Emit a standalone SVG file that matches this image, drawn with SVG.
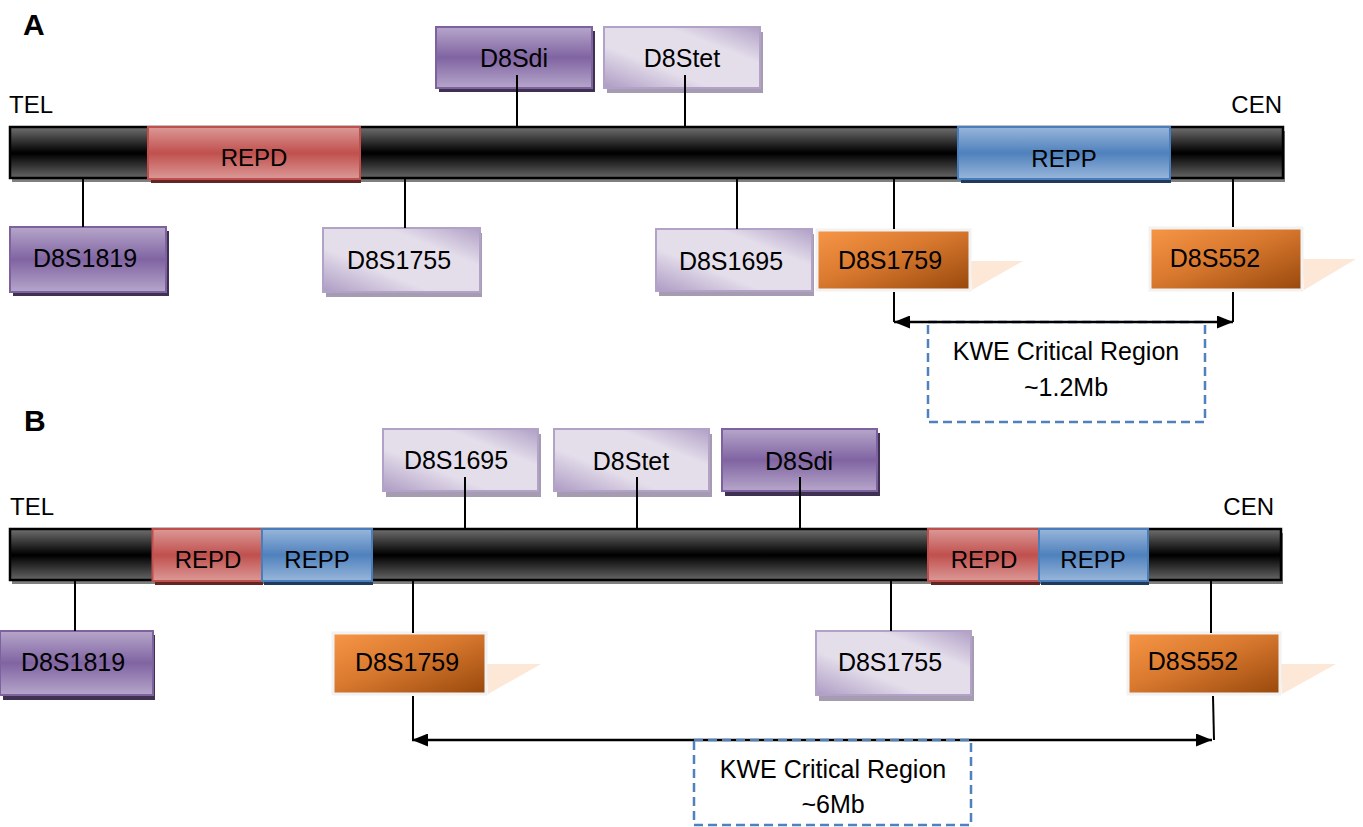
<svg xmlns="http://www.w3.org/2000/svg" width="1363" height="827" viewBox="0 0 1363 827">
<defs>
<linearGradient id="gBar" x1="0" y1="0" x2="0" y2="1">
<stop offset="0" stop-color="#707070"/><stop offset="0.48" stop-color="#050505"/><stop offset="0.52" stop-color="#000"/><stop offset="1" stop-color="#666"/>
</linearGradient>
<linearGradient id="gRD" x1="0" y1="0" x2="0" y2="1">
<stop offset="0" stop-color="#db9997"/><stop offset="0.5" stop-color="#c0504d"/><stop offset="1" stop-color="#db9997"/>
</linearGradient>
<linearGradient id="gRP" x1="0" y1="0" x2="0" y2="1">
<stop offset="0" stop-color="#98b6da"/><stop offset="0.5" stop-color="#4f81bd"/><stop offset="1" stop-color="#98b6da"/>
</linearGradient>
<linearGradient id="gDP" x1="0" y1="0" x2="0" y2="1">
<stop offset="0" stop-color="#b6a6ca"/><stop offset="0.5" stop-color="#8064a2"/><stop offset="1" stop-color="#b6a6ca"/>
</linearGradient>
<linearGradient id="gLP" x1="0" y1="1" x2="1" y2="0">
<stop offset="0" stop-color="#ad9bc3"/><stop offset="0.35" stop-color="#e4deeb"/><stop offset="0.7" stop-color="#e4deeb"/><stop offset="1" stop-color="#b09fc5"/>
</linearGradient>
<linearGradient id="gOR" x1="0" y1="0" x2="1" y2="1">
<stop offset="0" stop-color="#f79646"/><stop offset="0.45" stop-color="#d9792f"/><stop offset="1" stop-color="#98480c"/>
</linearGradient>
<marker id="ah" markerUnits="userSpaceOnUse" markerWidth="16" markerHeight="13" refX="16" refY="6.5" orient="auto-start-reverse">
<path d="M0,0 L16,6.5 L0,13 z" fill="#000"/>
</marker>
</defs>
<style>
.lbl{font-family:"Liberation Sans",Arial,sans-serif;font-size:25px;fill:#000;text-anchor:middle}
.cap{font-family:"Liberation Sans",Arial,sans-serif;font-size:24px;fill:#000}
.mid{text-anchor:middle}
.end{text-anchor:end}
.big{font-family:"Liberation Sans",Arial,sans-serif;font-size:30px;font-weight:bold;fill:#000}
.dp{fill:url(#gDP);stroke:#7e62a0;stroke-width:2}
.dps{fill:#3f3151}
.lp{fill:url(#gLP);stroke:#b3a2c7;stroke-width:2}
.lps{fill:#a59cb2}
.or{fill:url(#gOR);stroke:#f2f2f2;stroke-width:3}
.peach{fill:#fde7d7}
.bar{fill:url(#gBar);stroke:#000;stroke-width:2.5}
.barS{fill:#7f7f7f}
.repd{fill:url(#gRD);stroke:#bf4f4c;stroke-width:2}
.repdS{fill:#632523}
.repp{fill:url(#gRP);stroke:#4a7dbb;stroke-width:2}
.reppS{fill:#21395a}
.conn{stroke:#000;stroke-width:2;fill:none}
.arr{stroke:#000;stroke-width:2.5;fill:none;marker-start:url(#ah);marker-end:url(#ah)}
.dash{fill:none;stroke:#4f81bd;stroke-width:2.5;stroke-dasharray:9 5}
</style>
<rect width="1363" height="827" fill="#fff"/>

<!-- Panel labels -->
<text class="big" x="23" y="35">A</text>
<text class="big" x="24" y="431">B</text>
<text class="cap" x="9" y="113">TEL</text>
<text class="cap end" x="1282" y="113">CEN</text>
<text class="cap" x="10" y="515">TEL</text>
<text class="cap end" x="1274" y="515">CEN</text>

<!-- Chromosome A -->
<g id="chrA">
<rect class="barS" x="12" y="131" width="1273" height="51"/>
<rect class="bar" x="10" y="127" width="1273" height="51"/>
</g>
<g id="A_REPD">
<rect class="repdS" x="151" y="131" width="210" height="52"/>
<rect class="repd" x="148" y="127" width="212" height="52"/>
<text class="cap mid" x="254" y="166">REPD</text>
</g>
<g id="A_REPP">
<rect class="reppS" x="961" y="131" width="210" height="52"/>
<rect class="repp" x="958" y="127" width="212" height="52"/>
<text class="cap mid" x="1064" y="167">REPP</text>
</g>

<!-- Chromosome B -->
<g id="chrB">
<rect class="barS" x="12" y="533" width="1271" height="51"/>
<rect class="bar" x="10" y="529" width="1271" height="51"/>
</g>
<g id="B_REPD1">
<rect class="repdS" x="155" y="533" width="108" height="52"/>
<rect class="repd" x="152.5" y="529" width="109.5" height="52"/>
<text class="cap mid" x="208" y="568">REPD</text>
</g>
<g id="B_REPP1">
<rect class="reppS" x="264" y="533" width="109" height="52"/>
<rect class="repp" x="262" y="529" width="110" height="52"/>
<text class="cap mid" x="317" y="568">REPP</text>
</g>
<g id="B_REPD2">
<rect class="repdS" x="931" y="533" width="109" height="52"/>
<rect class="repd" x="928" y="529" width="111" height="52"/>
<text class="cap mid" x="984" y="568">REPD</text>
</g>
<g id="B_REPP2">
<rect class="reppS" x="1041" y="533" width="108" height="52"/>
<rect class="repp" x="1039" y="529" width="109" height="52"/>
<text class="cap mid" x="1093" y="568">REPP</text>
</g>

<!-- Panel A markers -->
<g id="A_D8S1819">
<rect class="dps" x="13" y="231" width="156" height="65"/>
<rect class="dp" x="10" y="227" width="156" height="65"/>
<text class="lbl" x="85" y="267">D8S1819</text>
</g>
<g id="A_D8Sdi">
<rect class="dps" x="439" y="31" width="156" height="61"/>
<rect class="dp" x="436" y="27" width="156" height="61"/>
<text class="lbl" x="514" y="67">D8Sdi</text>
</g>
<g id="A_D8Stet">
<rect class="lps" x="607" y="32" width="156" height="61"/>
<rect class="lp" x="604" y="27" width="156" height="61"/>
<text class="lbl" x="682" y="67">D8Stet</text>
</g>
<g id="A_D8S1755">
<rect class="lps" x="326" y="233" width="156" height="64"/>
<rect class="lp" x="323" y="228" width="157" height="64"/>
<text class="lbl" x="399" y="269">D8S1755</text>
</g>
<g id="A_D8S1695">
<rect class="lps" x="659" y="234" width="155" height="62"/>
<rect class="lp" x="656" y="229" width="156" height="62"/>
<text class="lbl" x="731" y="270">D8S1695</text>
</g>
<g id="A_D8S1759">
<polygon class="peach" points="970,261 1023,261 972,290"/>
<rect class="or" x="817" y="230" width="153" height="60"/>
<text class="lbl" x="890" y="269">D8S1759</text>
</g>
<g id="A_D8S552">
<polygon class="peach" points="1302,259 1356,259 1304,290"/>
<rect class="or" x="1150" y="228" width="152" height="62"/>
<text class="lbl" x="1215" y="267">D8S552</text>
</g>
<g id="A_KWE">
<rect class="dash" x="928" y="322" width="277" height="100"/>
<text class="lbl" x="1066" y="360">KWE Critical Region</text>
<text class="lbl" x="1066" y="396">~1.2Mb</text>
</g>

<!-- Panel B markers -->
<g id="B_D8S1819">
<rect class="dps" x="3" y="635" width="152" height="65"/>
<rect class="dp" x="0" y="631" width="153" height="64"/>
<text class="lbl" x="73" y="671">D8S1819</text>
</g>
<g id="B_D8S1695">
<rect class="lps" x="386" y="434" width="155" height="63"/>
<rect class="lp" x="383" y="429" width="155" height="62"/>
<text class="lbl" x="456" y="469">D8S1695</text>
</g>
<g id="B_D8Stet">
<rect class="lps" x="557" y="434" width="155" height="63"/>
<rect class="lp" x="554" y="429" width="155" height="62"/>
<text class="lbl" x="631" y="470">D8Stet</text>
</g>
<g id="B_D8Sdi">
<rect class="dps" x="725" y="433" width="155" height="63"/>
<rect class="dp" x="722" y="429" width="155" height="62"/>
<text class="lbl" x="799" y="470">D8Sdi</text>
</g>
<g id="B_D8S1755">
<rect class="lps" x="819" y="636" width="155" height="65"/>
<rect class="lp" x="816" y="631" width="155" height="64"/>
<text class="lbl" x="890" y="671">D8S1755</text>
</g>
<g id="B_D8S1759">
<polygon class="peach" points="486,664 541,664 488,694"/>
<rect class="or" x="333" y="633" width="153" height="61"/>
<text class="lbl" x="407" y="671">D8S1759</text>
</g>
<g id="B_D8S552">
<polygon class="peach" points="1280,664 1336,664 1282,694"/>
<rect class="or" x="1128" y="633" width="152" height="61"/>
<text class="lbl" x="1193" y="670">D8S552</text>
</g>

<!-- Connectors -->
<g id="connectors">
<line class="conn" x1="83" y1="178" x2="83" y2="227"/>
<line class="conn" x1="405" y1="178" x2="405" y2="228"/>
<line class="conn" x1="737" y1="178" x2="737" y2="229"/>
<line class="conn" x1="894" y1="178" x2="894" y2="229"/>
<line class="conn" x1="894" y1="292" x2="894" y2="322"/>
<line class="conn" x1="1233" y1="178" x2="1233" y2="227"/>
<line class="conn" x1="1233" y1="292" x2="1233" y2="322"/>
<line class="conn" x1="517" y1="75" x2="517" y2="127"/>
<line class="conn" x1="685" y1="75" x2="685" y2="127"/>
<line class="arr" x1="894" y1="322" x2="1233" y2="322"/>
<line class="conn" x1="75" y1="580" x2="75" y2="631"/>
<line class="conn" x1="413" y1="580" x2="413" y2="633"/>
<line class="conn" x1="413" y1="696" x2="413" y2="740"/>
<line class="conn" x1="891" y1="580" x2="891" y2="631"/>
<line class="conn" x1="1211" y1="580" x2="1211" y2="633"/>
<line class="conn" x1="1213" y1="696" x2="1214" y2="740"/>
<line class="conn" x1="465" y1="477" x2="465" y2="529"/>
<line class="conn" x1="637" y1="477" x2="637" y2="529"/>
<line class="conn" x1="800" y1="477" x2="800" y2="529"/>
<line class="arr" x1="412" y1="740" x2="1212" y2="740"/>
</g>

<g id="B_KWE">
<rect class="dash" x="694" y="740" width="277" height="85"/>
<text class="lbl" x="833" y="778">KWE Critical Region</text>
<text class="lbl" x="833" y="813">~6Mb</text>
</g>
</svg>
